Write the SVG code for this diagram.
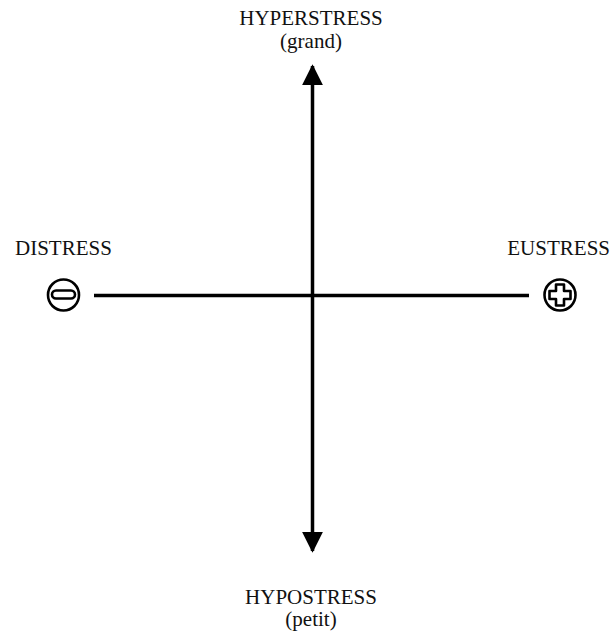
<svg xmlns="http://www.w3.org/2000/svg" width="612" height="636" viewBox="0 0 612 636">
<style>
.t{font-family:"Liberation Serif","Times New Roman",serif;font-size:21px;fill:#111}
.ax{stroke:#000;stroke-width:3.5;fill:none}
.sym{stroke:#000;stroke-width:2.6;fill:#fff}
</style>
<defs>
<marker id="ah" markerWidth="6" markerHeight="6" refX="5.5" refY="3" orient="auto" markerUnits="strokeWidth" viewBox="0 0 6 6">
<path d="M0,0 L6,3 L0,6 Z" fill="#000"/>
</marker>
</defs>
<rect width="612" height="636" fill="#fff"/>
<g id="connectors">
<line class="ax" x1="312.5" y1="295" x2="312.5" y2="66" marker-end="url(#ah)"/>
<line class="ax" x1="312.5" y1="295" x2="312.5" y2="551" marker-end="url(#ah)"/>
<line class="ax" x1="94" y1="295.5" x2="529" y2="295.5"/>
</g>
<g id="hyperstress">
<text class="t" x="311" y="25" text-anchor="middle">HYPERSTRESS</text>
<text class="t" x="311" y="48" text-anchor="middle">(grand)</text>
</g>
<g id="hypostress">
<text class="t" x="311" y="604" text-anchor="middle">HYPOSTRESS</text>
<text class="t" x="311" y="626" text-anchor="middle">(petit)</text>
</g>
<g id="distress">
<text class="t" x="15" y="255">DISTRESS</text>
<circle class="sym" cx="63.5" cy="295" r="15.5"/>
<rect class="sym" x="52" y="290.5" width="23" height="8" rx="4"/>
</g>
<g id="eustress">
<text class="t" x="610" y="255" text-anchor="end">EUSTRESS</text>
<circle class="sym" cx="560" cy="295" r="15.5"/>
<path class="sym" d="M556,284.5 h8 v6.5 h6.5 v8 h-6.5 v6.5 h-8 v-6.5 h-6.5 v-8 h6.5 z" stroke-linejoin="round"/>
</g>
</svg>
